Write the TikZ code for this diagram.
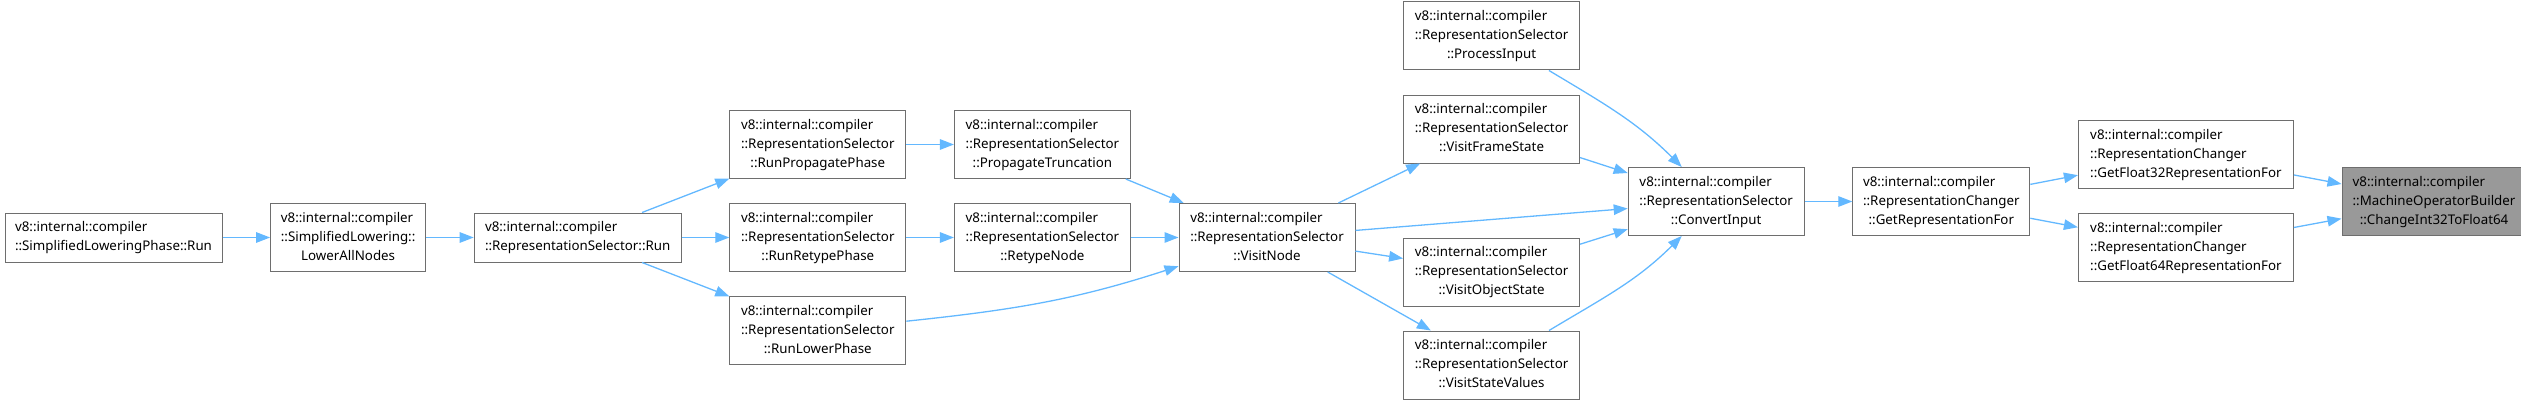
\documentclass[tikz,border=0pt]{standalone}
\usepackage{fontspec}
\newfontfamily\dxfont{Noto Sans}
\usetikzlibrary{positioning, arrows.meta}
\definecolor{edgeblue}{RGB}{99,184,255}
\definecolor{boxline}{RGB}{110,110,110}
\definecolor{targetfill}{RGB}{153,153,153}
\newcommand{\fnlabel}[2]{\begin{tabular}{@{}l@{}}#1\\\multicolumn{1}{@{}c@{}}{#2}\end{tabular}}
\tikzset{
>={Triangle[length=14pt,width=10.5pt]}, % filled arrow heads
node distance=24pt and 47.6pt, % gaps between the boxes and the ranks
fn/.style={draw=boxline, line width=1pt, fill=white, inner sep=2pt, minimum width=176pt, minimum height=68pt, font=\dxfont\fontsize{13.33}{19}\selectfont}, % three line box
fntwo/.style={fn, minimum height=49pt}, % two line box
target/.style={fn, fill=targetfill}, % the function the graph is about
call/.style={->, color=edgeblue, line width=1.3pt},
}

\begin{document}
\begin{tikzpicture}[x=1pt, y=-1pt]
\useasboundingbox (0,0) rectangle (2521,404);
\node[fntwo, minimum width=217pt] (slrun) at (113.5,237.5) {\fnlabel{v8::internal::compiler}{::SimplifiedLoweringPhase::Run}};
\node[fn, minimum width=155pt, right=of slrun] (lowerall) {\fnlabel{v8::internal::compiler\\::SimplifiedLowering::}{LowerAllNodes}};
\node[fntwo, minimum width=207pt, right=of lowerall] (rsrun) {\fnlabel{v8::internal::compiler}{::RepresentationSelector::Run}};
\node[fn, right=of rsrun] (rretype) {\fnlabel{v8::internal::compiler\\::RepresentationSelector}{::RunRetypePhase}};
\node[fn, above=of rretype] (rprop) {\fnlabel{v8::internal::compiler\\::RepresentationSelector}{::RunPropagatePhase}};
\node[fn, below=of rretype] (rlower) {\fnlabel{v8::internal::compiler\\::RepresentationSelector}{::RunLowerPhase}};
\node[fn, right=of rretype] (retype) {\fnlabel{v8::internal::compiler\\::RepresentationSelector}{::RetypeNode}};
\node[fn, right=of rprop] (ptrunc) {\fnlabel{v8::internal::compiler\\::RepresentationSelector}{::PropagateTruncation}};
\node[fn, right=of retype] (vnode) {\fnlabel{v8::internal::compiler\\::RepresentationSelector}{::VisitNode}};
\node[fn, right=of vnode, yshift=-34.5pt] (vos) {\fnlabel{v8::internal::compiler\\::RepresentationSelector}{::VisitObjectState}};
\node[fn, above=74pt of vos] (vfs) {\fnlabel{v8::internal::compiler\\::RepresentationSelector}{::VisitFrameState}};
\node[fn, above=of vfs] (pin) {\fnlabel{v8::internal::compiler\\::RepresentationSelector}{::ProcessInput}};
\node[fn, below=of vos] (vsv) {\fnlabel{v8::internal::compiler\\::RepresentationSelector}{::VisitStateValues}};
\node[fn, right=of vos, yshift=70.5pt] (ci) {\fnlabel{v8::internal::compiler\\::RepresentationSelector}{::ConvertInput}};
\node[fn, minimum width=177pt, right=of ci] (getrep) {\fnlabel{v8::internal::compiler\\::RepresentationChanger}{::GetRepresentationFor}};
\node[fn, minimum width=215pt, right=of getrep, yshift=47pt] (gf32) {\fnlabel{v8::internal::compiler\\::RepresentationChanger}{::GetFloat32RepresentationFor}};
\node[fn, minimum width=215pt, below=of gf32] (gf64) {\fnlabel{v8::internal::compiler\\::RepresentationChanger}{::GetFloat64RepresentationFor}};
\node[target, minimum width=184pt, right=of gf32, yshift=-47pt] (ci32) {\fnlabel{v8::internal::compiler\\::MachineOperatorBuilder}{::ChangeInt32ToFloat64}};
\draw[call]
    (slrun) edge (lowerall)
    (lowerall) edge (rsrun)
    (rsrun) edge (rprop)
    (rsrun) edge (rretype)
    (rsrun) edge (rlower)
    (rprop) edge (ptrunc)
    (rretype) edge (retype)
    (ptrunc) edge (vnode)
    (retype) edge (vnode)
    (rlower) edge[out=6, in=198] (vnode)
    (vnode) edge (vfs)
    (vnode) edge (ci)
    (vnode) edge (vos)
    (vnode) edge (vsv)
    (pin) edge[out=-31, in=135] (ci)
    (vfs) edge (ci)
    (vos) edge (ci)
    (vsv) edge[out=31, in=-135] (ci)
    (ci) edge (getrep)
    (getrep) edge (gf32)
    (getrep) edge (gf64)
    (gf32) edge (ci32)
    (gf64) edge (ci32)
    ;
\end{tikzpicture}
\end{document}
